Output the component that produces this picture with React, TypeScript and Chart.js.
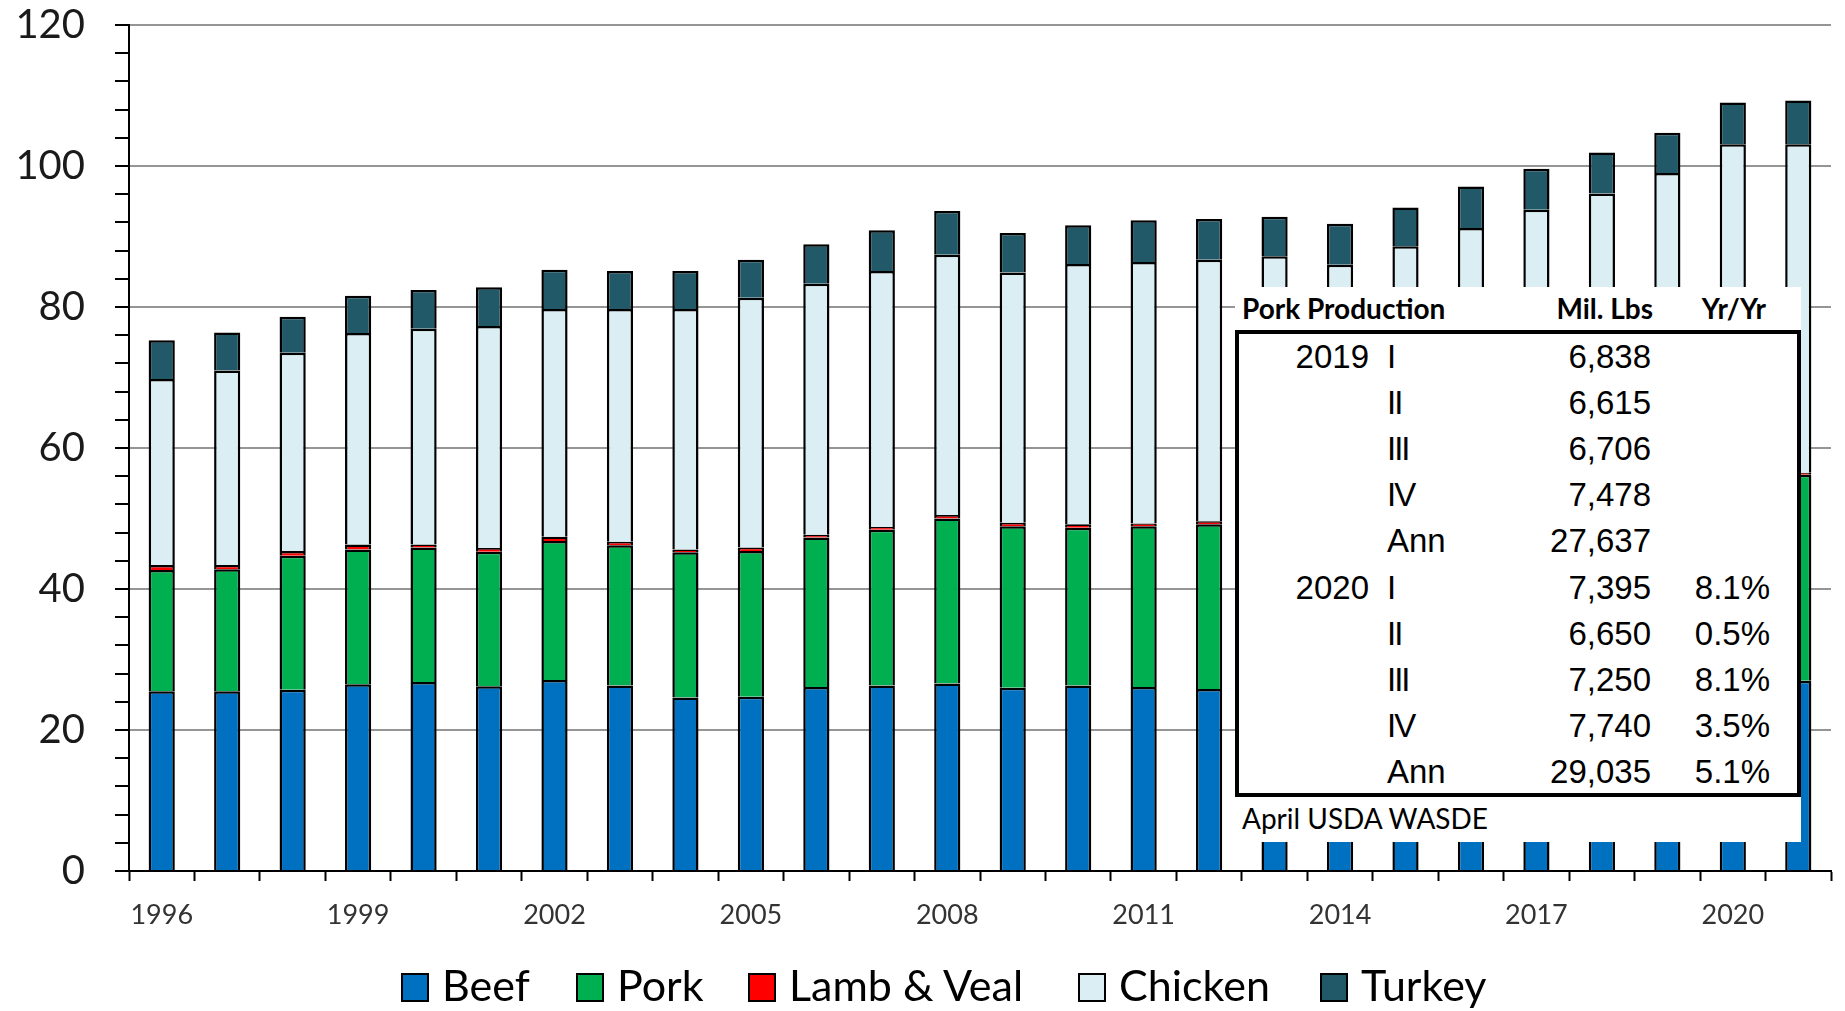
import React, { useEffect, useRef } from 'react';
import { Chart, registerables } from 'chart.js';

Chart.register(...registerables);

// ---- Data (billion lbs) ----
const years = [
  '1996', '1997', '1998', '1999', '2000', '2001', '2002', '2003', '2004', '2005',
  '2006', '2007', '2008', '2009', '2010', '2011', '2012', '2013', '2014', '2015',
  '2016', '2017', '2018', '2019', '2020', '2021',
];
const beef = [
  25.5, 25.5, 25.7, 26.5, 26.8, 26.2, 27.1, 26.3, 24.6, 24.7,
  26.1, 26.3, 26.6, 26.0, 26.3, 26.1, 25.8, 25.7, 24.3, 23.7,
  25.2, 26.2, 26.9, 27.2, 27.5, 27.0,
];
const pork = [
  17.2, 17.3, 19.0, 19.1, 19.1, 19.1, 19.7, 19.9, 20.6, 20.7,
  21.2, 22.1, 23.4, 22.9, 22.4, 22.8, 23.4, 23.2, 22.8, 24.5,
  25.0, 25.6, 26.3, 27.6, 29.0, 29.2,
];
const lambVeal = [
  0.7, 0.6, 0.7, 0.7, 0.4, 0.5, 0.6, 0.5, 0.4, 0.5,
  0.4, 0.4, 0.5, 0.5, 0.5, 0.4, 0.4, 0.3, 0.3, 0.3,
  0.3, 0.3, 0.3, 0.3, 0.3, 0.3,
];
const chicken = [
  26.4, 27.6, 28.1, 30.0, 30.6, 31.5, 32.3, 33.0, 34.1, 35.4,
  35.6, 36.3, 36.9, 35.5, 36.9, 37.1, 37.1, 38.0, 38.6, 40.1,
  40.7, 41.7, 42.6, 43.9, 46.3, 46.6,
];
const turkey = [
  5.5, 5.4, 5.1, 5.3, 5.5, 5.5, 5.6, 5.4, 5.4, 5.4,
  5.6, 5.8, 6.2, 5.6, 5.5, 5.9, 5.8, 5.6, 5.8, 5.5,
  5.9, 5.8, 5.8, 5.7, 5.9, 6.2,
];
const seriesNames = ['Beef', 'Pork', 'Lamb & Veal', 'Chicken', 'Turkey'];
const seriesColors = ['#0070C0', '#00B050', '#FF0000', '#DAEEF3', '#215968'];
const seriesValues = [beef, pork, lambVeal, chicken, turkey];

// ---- Inset table ----
const tableTitle = 'Pork Production';
const tableColHeads = ['Mil. Lbs', 'Yr/Yr'];
const tableYears = ['2019', '', '', '', '', '2020', '', '', '', ''];
const tableQuarters = ['I', 'II', 'III', 'IV', 'Ann', 'I', 'II', 'III', 'IV', 'Ann'];
const tableValues = ['6,838', '6,615', '6,706', '7,478', '27,637', '7,395', '6,650', '7,250', '7,740', '29,035'];
const tableChanges = ['', '', '', '', '', '8.1%', '0.5%', '8.1%', '3.5%', '5.1%'];
const tableSource = 'April USDA WASDE';

// layout constants (pixels)
const W = 1845;
const H = 1011;
const legendLeft = [401, 576, 748, 1078, 1320];

export default function App() {
  const canvasRef = useRef<HTMLCanvasElement>(null);

  useEffect(() => {
    document.body.style.margin = '0';
    const canvas = canvasRef.current;
    if (!canvas) return;
    const chart = new Chart(canvas, {
      type: 'bar',
      data: {
        labels: years,
        datasets: seriesValues.map((vals, i) => ({
          label: seriesNames[i],
          data: vals,
          backgroundColor: seriesColors[i],
          borderColor: '#000000',
          borderWidth: 2.5,
          borderSkipped: 'start' as const,
          categoryPercentage: 1,
          barPercentage: 0.4,
        })),
      },
      options: {
        animation: false,
        responsive: false,
        maintainAspectRatio: false,
        layout: { padding: { top: 25, right: 14, left: 0, bottom: 0 } },
        plugins: {
          legend: { display: false },
          tooltip: { enabled: false },
        },
        scales: {
          x: {
            stacked: true,
            border: { color: '#000000', width: 2 },
            grid: {
              display: true,
              drawOnChartArea: false,
              drawTicks: true,
              tickLength: 10,
              tickColor: '#000000',
              tickWidth: 2,
              offset: true,
            },
            ticks: {
              autoSkip: false,
              maxRotation: 0,
              minRotation: 0,
              color: '#333333',
              font: { family: 'Lato', size: 27 },
              padding: 18,
              callback: (_v: any, i: number) => (i % 3 === 0 ? years[i] : ''),
            },
            afterFit: (s: any) => {
              s.height = 140;
              s.paddingLeft = 0;
              s.paddingRight = 0;
            },
          },
          y: {
            stacked: true,
            min: 0,
            max: 120,
            border: { color: '#000000', width: 2 },
            grid: {
              color: (ctx: any) =>
                ctx.tick && ctx.tick.value % 20 === 0 ? '#959595' : 'rgba(0,0,0,0)',
              lineWidth: 2,
              drawTicks: true,
              tickLength: 14,
              tickColor: '#000000',
              tickWidth: 2,
            },
            ticks: {
              stepSize: 4,
              autoSkip: false,
              color: '#1a1a1a',
              font: { family: 'Lato', size: 40 },
              padding: 30,
              callback: (v: any) => (Number(v) % 20 === 0 ? String(v) : ''),
            },
            afterFit: (s: any) => {
              s.width = 129;
              s.paddingTop = 0;
              s.paddingBottom = 0;
            },
          },
        },
      },
    });
    return () => chart.destroy();
  }, []);

  const rowH = 46.2;

  return (
    <div style={{ position: 'relative', width: W, height: H, background: '#fff', overflow: 'hidden' }}>
      <canvas ref={canvasRef} width={W} height={H} style={{ position: 'absolute', left: 0, top: 0 }} />

      {/* Inset table */}
      <div
        style={{
          position: 'absolute',
          left: 1235,
          top: 287,
          width: 566,
          height: 555,
          background: '#ffffff',
        }}
      >
        <div
          style={{
            position: 'absolute',
            left: 7,
            top: 5,
            fontFamily: 'Lato',
            fontWeight: 700,
            fontSize: 28,
            lineHeight: '33.6px',
            color: '#000',
            whiteSpace: 'nowrap',
          }}
        >
          {tableTitle}
        </div>
        <div
          style={{
            position: 'absolute',
            right: 148,
            top: 5,
            fontFamily: 'Lato',
            fontWeight: 700,
            fontSize: 28,
            lineHeight: '33.6px',
            color: '#000',
            whiteSpace: 'nowrap',
          }}
        >
          {tableColHeads[0]}
        </div>
        <div
          style={{
            position: 'absolute',
            right: 35,
            top: 5,
            fontFamily: 'Lato',
            fontWeight: 700,
            fontSize: 28,
            lineHeight: '33.6px',
            color: '#000',
            whiteSpace: 'nowrap',
          }}
        >
          {tableColHeads[1]}
        </div>
        <div
          style={{
            position: 'absolute',
            left: 0,
            top: 43,
            width: 566,
            height: 467,
            border: '4px solid #000',
            boxSizing: 'border-box',
          }}
        />
        {tableValues.map((val, i) => (
          <div
            key={i}
            style={{
              position: 'absolute',
              left: 0,
              top: 46.5 + i * rowH,
              width: 566,
              height: rowH,
              fontFamily: '"Liberation Sans", Arial, sans-serif',
              fontSize: 33,
              lineHeight: rowH + 'px',
              color: '#000',
              whiteSpace: 'nowrap',
            }}
          >
            <span style={{ position: 'absolute', left: 0, width: 134, textAlign: 'right' }}>{tableYears[i]}</span>
            <span style={{ position: 'absolute', left: 152, letterSpacing: tableQuarters[i] === 'Ann' ? 0 : -2 }}>
              {tableQuarters[i]}
            </span>
            <span style={{ position: 'absolute', left: 0, width: 416, textAlign: 'right' }}>{val}</span>
            <span style={{ position: 'absolute', left: 0, width: 535, textAlign: 'right' }}>{tableChanges[i]}</span>
          </div>
        ))}
        <div
          style={{
            position: 'absolute',
            left: 7,
            top: 515,
            fontFamily: 'Lato',
            fontSize: 28,
            lineHeight: '33.6px',
            color: '#000',
            whiteSpace: 'nowrap',
          }}
        >
          {tableSource}
        </div>
      </div>

      {/* Legend */}
      {seriesNames.map((name, i) => (
        <div
          key={name}
          style={{
            position: 'absolute',
            left: legendLeft[i],
            top: 959,
            display: 'flex',
            alignItems: 'flex-start',
            fontFamily: 'Lato',
            fontSize: 43,
            lineHeight: '51.6px',
            color: '#000',
            whiteSpace: 'nowrap',
          }}
        >
          <span
            style={{
              display: 'inline-block',
              width: 28,
              height: 29,
              marginTop: 14,
              marginRight: 13,
              background: seriesColors[i],
              border: '2px solid #000',
              boxSizing: 'border-box',
            }}
          />
          <span>{name}</span>
        </div>
      ))}
    </div>
  );
}
